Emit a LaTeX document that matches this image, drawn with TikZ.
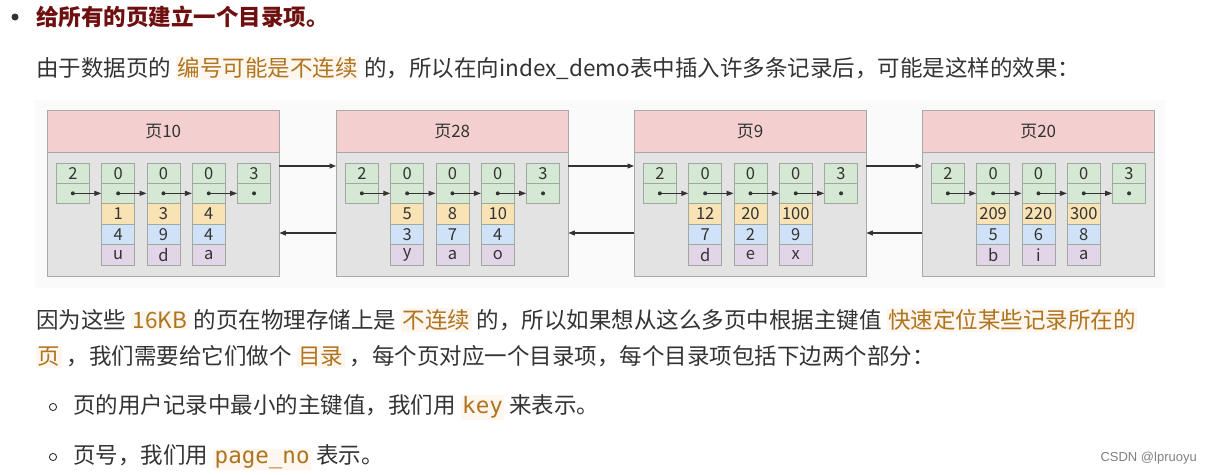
\documentclass[tikz,border=0pt]{standalone}
\usepackage{fontspec}
\setmainfont{Noto Sans CJK SC}
\newfontfamily\monofont{DejaVu Sans Mono}
\newfontfamily\wmfont{Liberation Sans}
\usetikzlibrary{arrows.meta}
\definecolor{txt}{HTML}{333333}
\definecolor{ttlc}{HTML}{6E1010}
\definecolor{hlfg}{HTML}{B0741F}
\definecolor{hlbg}{HTML}{FDF7EF}
\definecolor{hdr}{HTML}{F3CFCF}
\definecolor{pbody}{HTML}{E3E3E3}
\definecolor{pline}{HTML}{A8A8A8}
\definecolor{cgreen}{HTML}{D5E8D4}
\definecolor{cyellow}{HTML}{F9E2B4}
\definecolor{cblue}{HTML}{CFE2F7}
\definecolor{cpurple}{HTML}{E1D5E7}
\definecolor{cline}{HTML}{A0A8A0}
\definecolor{diagbg}{HTML}{FAFAFA}
\newcommand\hlt[1]{{\setlength\fboxsep{1.5pt}\colorbox{hlbg}{\color{hlfg}#1}}}
\begin{document}
\begin{tikzpicture}[x=1pt,y=-1pt,
  line/.style={anchor=west,inner sep=0pt,text=txt,font=\fontsize{22.5}{26}\selectfont},
  hdrbox/.style={draw=pline,fill=hdr,minimum width=232pt,minimum height=42pt,inner sep=0pt,anchor=north west,text=txt,font=\fontsize{17}{20}\selectfont},
  bodybox/.style={draw=pline,fill=pbody,minimum width=232pt,minimum height=124pt,inner sep=0pt,anchor=north west},
  cellbox/.style={draw=cline,line width=0.7pt,minimum width=33pt,minimum height=#1,inner sep=0pt,anchor=north west,text=txt,font=\fontsize{16.5}{18}\selectfont},
  gcell/.style={cellbox=20pt,fill=cgreen},
  ycell/.style={cellbox=20.7pt,fill=cyellow},
  bcell/.style={cellbox=20.7pt,fill=cblue},
  pcell/.style={cellbox=20.7pt,fill=cpurple},
  arr/.style={draw=txt,line width=1.2pt,-{Triangle[length=7pt,width=5pt]}},
  parr/.style={draw=txt,line width=1.1pt,-{Triangle[length=6.5pt,width=5pt]}},
]
\useasboundingbox (0,0) rectangle (1212,474);
\fill[white] (0,0) rectangle (1212,474);
\fill[diagbg] (35,100) rectangle (1165,288);

% title
\fill[txt] (15,17) circle (3.5);
\node[line,text=ttlc,font=\fontsize{22.5}{26}\selectfont\bfseries] (title) at (36,17) {给所有的页建立一个目录项。};
\node[line] (l2) at (36,68) {由于数据页的 \hlt{编号可能是不连续} 的，所以在向index\_demo表中插入许多条记录后，可能是这样的效果：};

% pages
\foreach \p/\px/\ttl/\recs in {1/47/页10/{1/4/u,3/9/d,4/4/a},2/336/页28/{5/3/y,8/7/a,10/4/o},3/634/页9/{12/7/d,20/2/e,100/9/x},4/922/页20/{209/5/b,220/6/i,300/8/a}}{
  \node[bodybox] (b\p) at (\px,152) {};
  \node[hdrbox] (h\p) at (\px,110) {\ttl};
  \foreach \i/\v in {0/2,1/0,2/0,3/0,4/3}{
    \pgfmathsetmacro\cx{\px+9+45.3*\i}
    \node[gcell] (c\p-\i-t) at (\cx,163) {\v};
    \node[gcell] (c\p-\i-m) at (\cx,183) {};
  }
  \foreach \ka/\kb/\kc [count=\i] in \recs{
    \pgfmathsetmacro\cx{\px+9+45.3*\i}
    \node[ycell] (r\p-\i-a) at (\cx,203) {\ka};
    \node[bcell] (r\p-\i-b) at (\cx,223.7) {\kb};
    \node[pcell] (r\p-\i-c) at (\cx,244.3) {\kc};
  }
  \foreach \i [evaluate=\i as \j using int(\i+1)] in {0,...,3}{
    \draw[arr] (c\p-\i-m.center) -- (c\p-\j-m.west);
  }
  \foreach \i in {0,...,4}{
    \fill[txt] (c\p-\i-m.center) circle (2);
  }
}

% links between pages
\foreach \a/\b in {1/2,2/3,3/4}{
  \draw[parr] ([yshift=-14pt]b\a.north east) -- ([yshift=-14pt]b\b.north west);
  \draw[parr] ([yshift=-81pt]b\b.north west) -- ([yshift=-81pt]b\a.north east);
}

\node[line] (l3) at (36,320) {因为这些 \hlt{16KB} 的页在物理存储上是 \hlt{不连续} 的，所以如果想从这么多页中根据主键值 \hlt{快速定位某些记录所在的}};
\node[line] (l4) at (36,357) {\hlt{页} ，我们需要给它们做个 \hlt{目录} ，每个页对应一个目录项，每个目录项包括下边两个部分：};

\draw[txt,line width=0.9pt] (53,407) circle (3.6);
\node[line] (i1) at (73,407) {页的用户记录中最小的主键值，我们用 \hlt{\monofont key} 来表示。};
\draw[txt,line width=0.9pt] (53,457) circle (3.6);
\node[line] (i2) at (73,457) {页号，我们用 \hlt{\monofont page\_no} 表示。};

\node[anchor=east,inner sep=0pt,text=gray,font=\wmfont\fontsize{13}{15}\selectfont] (wm) at (1197,458) {CSDN @lpruoyu};
\end{tikzpicture}
\end{document}
